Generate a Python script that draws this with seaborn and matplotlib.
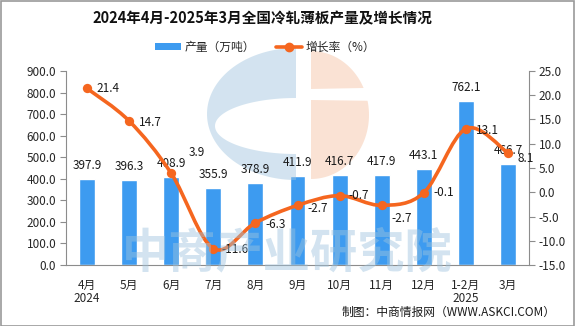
import numpy as np
import matplotlib
matplotlib.use("Agg")
import matplotlib.pyplot as plt
from matplotlib.path import Path
from matplotlib.patches import PathPatch, Polygon, Rectangle
from matplotlib.lines import Line2D
from matplotlib.transforms import Affine2D
import seaborn as sns
import pandas as pd

# Monthly cold-rolled sheet output and year-on-year growth
months = ["4月\n2024", "5月", "6月", "7月", "8月", "9月", "10月", "11月", "12月", "1-2月\n2025", "3月"]
output_wt = [397.9, 396.3, 408.9, 355.9, 378.9, 411.9, 416.7, 417.9, 443.1, 762.1, 466.7]
growth_pct = [21.4, 14.7, 3.9, -11.6, -6.3, -2.7, -0.7, -2.7, -0.1, 13.1, 8.1]

BAR_C = "#3D9BF0"
LINE_C = "#F5661F"
GRAY = "#8C8C8C"

sns.set_style("white")
plt.rcParams["font.family"] = ["Noto Sans CJK SC", "DejaVu Sans"]
plt.rcParams["axes.unicode_minus"] = False

W, H = 575, 326
fig = plt.figure(figsize=(W / 100, H / 100), dpi=100)
ax = fig.add_axes([66 / W, 1 - 265 / H, (529 - 66) / W, (265 - 71) / H])
ax.set_facecolor("none")

df = pd.DataFrame({"month": months, "output": output_wt, "growth": growth_pct})
sns.barplot(data=df, x="month", y="output", color=BAR_C, width=0.38,
            saturation=1, ax=ax, zorder=1)

ax.set_xlim(-0.5, len(months) - 0.5)
ax.set_ylim(0, 900)
ax.set_yticks(np.arange(0, 901, 100))
ax.set_yticklabels([f"{v:.1f}" for v in np.arange(0, 901, 100)], fontsize=8.5)
ax.set_xlabel("")
ax.set_ylabel("")
ax.set_xticks(range(len(months)))
ax.set_xticklabels(months, fontsize=8.5, linespacing=1.05)
ax.set_xticks(np.arange(-0.5, len(months)), minor=True)
ax.tick_params(axis="x", which="major", length=0, pad=10)
ax.tick_params(axis="x", which="minor", length=5, color=GRAY, width=0.8)
ax.tick_params(axis="y", length=4, color=GRAY, width=0.8, pad=3)
for s in ["top", "right"]:
    ax.spines[s].set_visible(False)
for s in ["left", "bottom"]:
    ax.spines[s].set_color(GRAY)
    ax.spines[s].set_linewidth(0.8)

for i, v in enumerate(output_wt):
    ax.annotate(f"{v:.1f}", (i, v), xytext=(0, 7), textcoords="offset pixels",
                ha="center", va="bottom", fontsize=8.5, color="#1a1a1a", zorder=5)

# Watermark: logo and institute name, semi-transparent over the bars
pix = Affine2D().scale(1 / W, -1 / H).translate(0, 1) + fig.transFigure
cx, cy, a_out, b_out = 296, 114, 89, 66
t = np.linspace(np.pi / 2, 3 * np.pi / 2, 80)
outer = np.c_[cx + a_out * np.cos(t), cy - b_out * np.sin(t)]
ti = np.linspace(3 * np.pi / 2, np.pi / 2, 80)
inner = np.c_[cx + 81 * np.cos(ti), 126 - 28 * np.sin(ti)]
ax.add_patch(Polygon(np.vstack([outer, inner]), closed=True, transform=pix,
                     facecolor="#9EC3DE", alpha=0.45, lw=0, zorder=2, clip_on=False))
ox, oy, a, b = 311, 115, 58, 64
tt = np.linspace(-np.pi / 2, np.pi / 2, 120)
ex = ox + a * np.cos(tt)
ey = oy - b * np.sin(tt)
top = ey <= 89
bot = ey >= 100
ax.add_patch(Polygon(np.vstack([[ox, 89], np.c_[ex[top], ey[top]]]), closed=True,
                     transform=pix, facecolor="#F4B894", alpha=0.4, lw=0,
                     zorder=2, clip_on=False))
ax.add_patch(Polygon(np.vstack([[ox, 100], np.c_[ex[bot], ey[bot]][::-1]]), closed=True,
                     transform=pix, facecolor="#F4B894", alpha=0.4, lw=0,
                     zorder=2, clip_on=False))
fig.text(287 / W, 1 - 253 / H, "中商产业研究院", fontsize=34, fontweight="heavy",
         color="#9EC3DE", alpha=0.45, ha="center", va="center", zorder=2)

# Growth rate on the secondary axis
ax2 = ax.twinx()
ax2.set_ylim(-15, 25)
ax2.set_yticks(np.arange(-15, 26, 5))
ax2.set_yticklabels([f"{v:.1f}" for v in np.arange(-15, 26, 5)], fontsize=8.5)
ax2.tick_params(axis="y", length=4, color=GRAY, width=0.8, pad=3)
for s in ["top", "left", "bottom"]:
    ax2.spines[s].set_visible(False)
ax2.spines["right"].set_color(GRAY)
ax2.spines["right"].set_linewidth(0.8)

# smooth curve through the points (Catmull-Rom as cubic Bezier segments)
xs = np.arange(len(growth_pct), dtype=float)
ys = np.asarray(growth_pct, dtype=float)
pts = np.c_[xs, ys]
verts = [tuple(pts[0])]
codes = [Path.MOVETO]
k = 1 / 6
for i in range(len(pts) - 1):
    p0 = pts[max(i - 1, 0)]
    p1 = pts[i]
    p2 = pts[i + 1]
    p3 = pts[min(i + 2, len(pts) - 1)]
    c1 = p1 + (p2 - p0) * k
    c2 = p2 - (p3 - p1) * k
    verts += [tuple(c1), tuple(c2), tuple(p2)]
    codes += [Path.CURVE4] * 3
ax2.add_patch(PathPatch(Path(verts, codes), facecolor="none", edgecolor=LINE_C,
                        lw=2.6, zorder=3, capstyle="round", joinstyle="round"))
sns.scatterplot(data=df.assign(pos=xs), x="pos", y="growth", color=LINE_C, s=45,
                edgecolor=LINE_C, linewidth=0, ax=ax2, zorder=4, legend=False)
ax2.set_xlabel("")
ax2.set_ylabel("")
ax2.set_xlim(-0.5, len(months) - 0.5)

offsets = [(9, 0), (10, -2), (17, 21), (8, -1), (10, -2), (10, -3),
           (9, 0), (10, -13), (10, 0), (10, -2), (10, -6)]
for i, v in enumerate(growth_pct):
    ax2.annotate(f"{v:.1f}", (i, v), xytext=offsets[i], textcoords="offset pixels",
                 ha="left", va="center", fontsize=8.5, color="#1a1a1a", zorder=5)

# Title, legend, source
fig.text(262 / W, 1 - 18 / H, "2024年4月-2025年3月全国冷轧薄板产量及增长情况",
         ha="center", va="center", fontsize=10.5, fontweight="bold", color="#111111")
handles = [Rectangle((0, 0), 1, 1, facecolor=BAR_C, edgecolor="none"),
           Line2D([], [], color=LINE_C, lw=2.6, marker="o", markersize=6)]
fig.legend(handles, ["产量（万吨）", "增长率（%）"], loc="center",
           bbox_to_anchor=(265 / W, 1 - 47 / H), ncol=2, frameon=False,
           fontsize=8.5, handlelength=2.2, handleheight=0.5, columnspacing=1.8,
           handletextpad=0.3)
fig.text(556 / W, 1 - 312 / H, "制图：中商情报网（WWW.ASKCI.COM）",
         ha="right", va="center", fontsize=8.5, color="#1a1a1a")

fig.add_artist(Rectangle((0.5 / W, 0.5 / H), 1 - 1.5 / W, 1 - 1.5 / H,
                         transform=fig.transFigure, facecolor="none",
                         edgecolor="#999999", lw=1.2))

fig.savefig("out.png", dpi=100)
